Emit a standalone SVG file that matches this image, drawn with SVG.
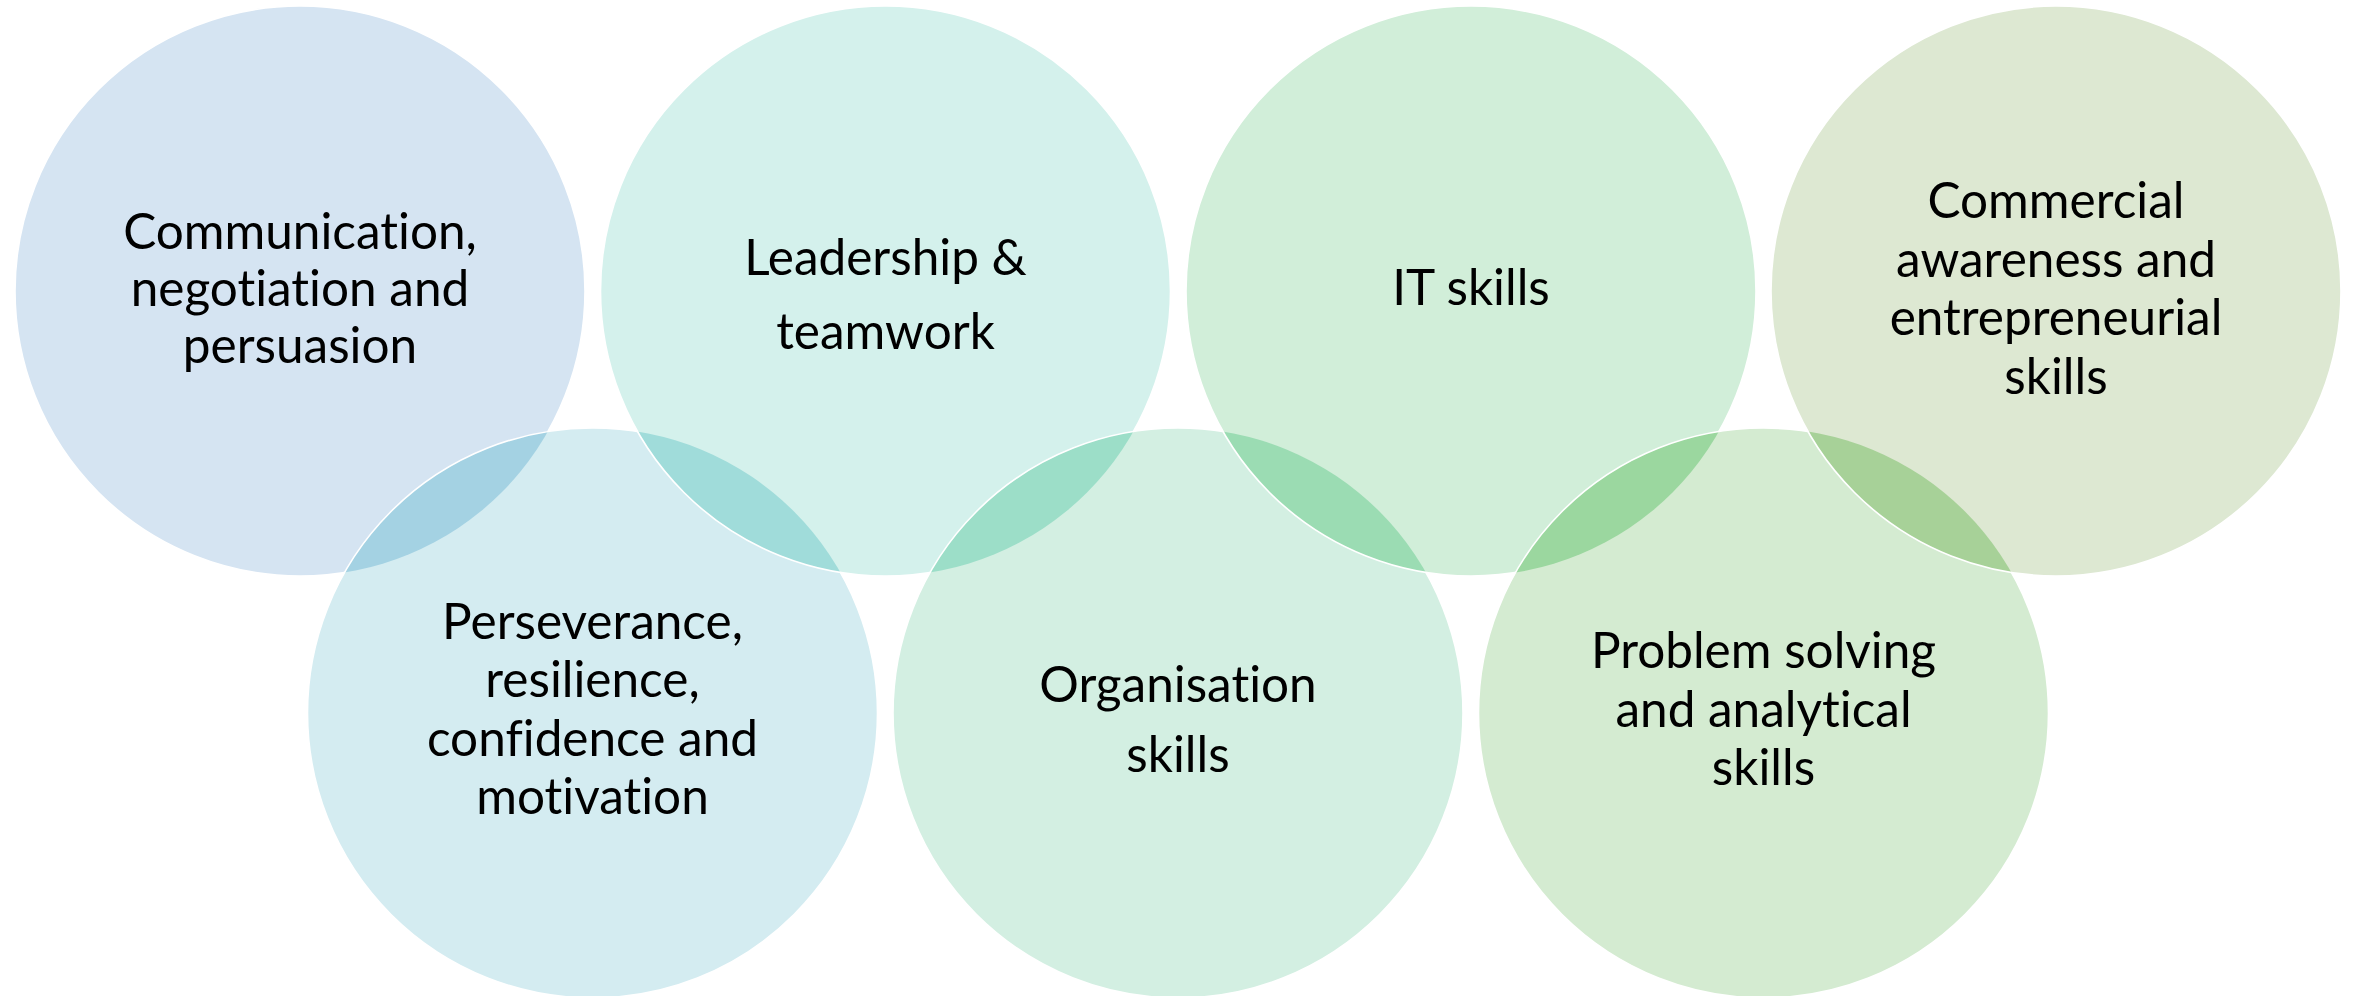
<svg xmlns="http://www.w3.org/2000/svg" width="2357" height="996" viewBox="0 0 2357 996">
<style>
.edge{fill:none;stroke:#ffffff;stroke-width:1.6}
.lbl{font-family:Lato,"Open Sans","Liberation Sans",sans-serif;font-size:49.5px;fill:#000000;text-anchor:middle;font-variant-ligatures:none}
</style>
<defs>
<clipPath id="k1"><circle cx="300" cy="291" r="285"/></clipPath>
<clipPath id="k5"><circle cx="592.5" cy="713" r="285"/></clipPath>
<clipPath id="k2"><circle cx="885.5" cy="291" r="285"/></clipPath>
<clipPath id="k6"><circle cx="1178" cy="713" r="285"/></clipPath>
<clipPath id="k3"><circle cx="1471" cy="291" r="285"/></clipPath>
<clipPath id="k7"><circle cx="1763.5" cy="713" r="285"/></clipPath>
</defs>
<rect width="2357" height="996" fill="#ffffff"/>
<g id="node-communication">
<circle cx="300" cy="291" r="285" fill="#d5e4f2"/>
<circle class="edge" cx="300" cy="291" r="285"/>
<text class="lbl" x="300" y="249">Communication,</text>
<text class="lbl" x="300" y="306">negotiation and</text>
<text class="lbl" x="300" y="363">persuasion</text>
</g>
<g id="node-perseverance">
<circle cx="592.5" cy="713" r="285" fill="#d4ecf1"/>
<circle cx="592.5" cy="713" r="285" fill="#a4d2e3" clip-path="url(#k1)"/>
<circle class="edge" cx="592.5" cy="713" r="285"/>
<text class="lbl" x="592.5" y="639">Perseverance,</text>
<text class="lbl" x="592.5" y="697">resilience,</text>
<text class="lbl" x="592.5" y="756">confidence and</text>
<text class="lbl" x="592.5" y="814">motivation</text>
</g>
<g id="node-leadership">
<circle cx="885.5" cy="291" r="285" fill="#d4f1ec"/>
<circle cx="885.5" cy="291" r="285" fill="#a0dcda" clip-path="url(#k5)"/>
<circle class="edge" cx="885.5" cy="291" r="285"/>
<text class="lbl" x="885.5" y="275">Leadership &amp;</text>
<text class="lbl" x="885.5" y="349">teamwork</text>
</g>
<g id="node-organisation">
<circle cx="1178" cy="713" r="285" fill="#d3efe2"/>
<circle cx="1178" cy="713" r="285" fill="#9cdec8" clip-path="url(#k2)"/>
<circle class="edge" cx="1178" cy="713" r="285"/>
<text class="lbl" x="1178" y="702">Organisation</text>
<text class="lbl" x="1178" y="772">skills</text>
</g>
<g id="node-it">
<circle cx="1471" cy="291" r="285" fill="#d1eed9"/>
<circle cx="1471" cy="291" r="285" fill="#9bdcb3" clip-path="url(#k6)"/>
<circle class="edge" cx="1471" cy="291" r="285"/>
<text class="lbl" x="1471" y="305">IT skills</text>
</g>
<g id="node-problem">
<circle cx="1763.5" cy="713" r="285" fill="#d4ebd1"/>
<circle cx="1763.5" cy="713" r="285" fill="#9bd79f" clip-path="url(#k3)"/>
<circle class="edge" cx="1763.5" cy="713" r="285"/>
<text class="lbl" x="1763.5" y="668">Problem solving</text>
<text class="lbl" x="1763.5" y="726.5">and analytical</text>
<text class="lbl" x="1763.5" y="785">skills</text>
</g>
<g id="node-commercial">
<circle cx="2056" cy="291" r="285" fill="#dde8d2"/>
<circle cx="2056" cy="291" r="285" fill="#a7d198" clip-path="url(#k7)"/>
<circle class="edge" cx="2056" cy="291" r="285"/>
<text class="lbl" x="2056" y="218">Commercial</text>
<text class="lbl" x="2056" y="276.5">awareness and</text>
<text class="lbl" x="2056" y="335">entrepreneurial</text>
<text class="lbl" x="2056" y="393.5">skills</text>
</g>
<g id="connectors"></g>
</svg>
